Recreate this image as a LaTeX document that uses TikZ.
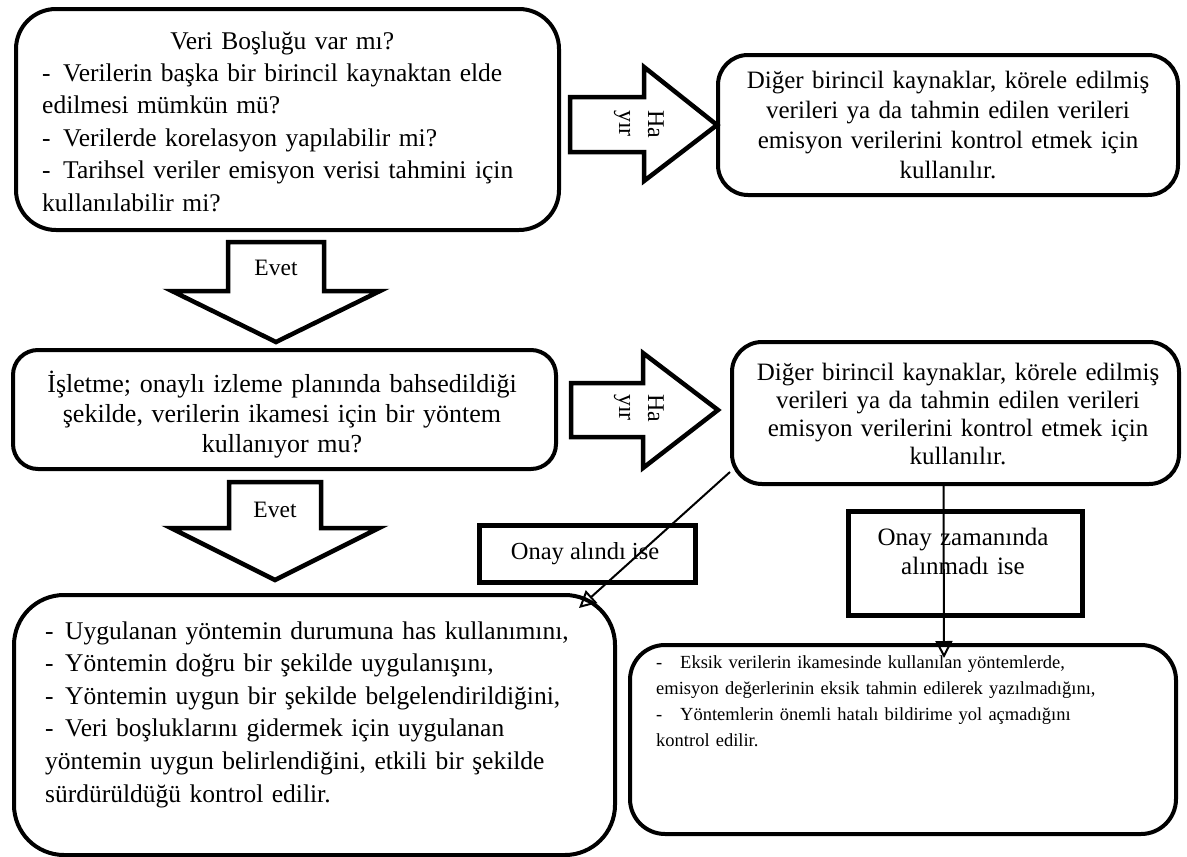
\documentclass[tikz,border=0pt]{standalone}
\usepackage{fontspec}
\setmainfont{Liberation Serif}
\usetikzlibrary{arrows.meta,calc}
\begin{document}
\begin{tikzpicture}[x=1pt,y=-1pt,
  rbox/.style={draw, line width=4pt, fill=white, inner sep=0pt, anchor=north west},
  sbox/.style={draw, line width=4.5pt, fill=white, inner sep=0pt, anchor=north west},
  blockarrow/.style={draw, line width=4.5pt, fill=white, line join=miter},
  txt/.style={inner sep=0pt, anchor=base west},
  ctxt/.style={inner sep=0pt, anchor=base},
  conn/.style={line width=2pt, -{Triangle[open, length=17pt, width=17pt, line width=2pt]}}]
\useasboundingbox (0,0) rectangle (1187,857);

% boxes
\node[rbox, rounded corners=40pt, minimum width=543pt, minimum height=221pt] (q1) at (14,7) {};
\node[rbox, rounded corners=30pt, minimum width=460pt, minimum height=140pt] (r1) at (716,53) {};
\node[rbox, rounded corners=25pt, minimum width=543pt, minimum height=119pt] (q2) at (11,348) {};
\node[rbox, rounded corners=30pt, minimum width=447pt, minimum height=142pt] (r2) at (730,340) {};
\node[rbox, rounded corners=50pt, minimum width=601pt, minimum height=260pt] (c1) at (12,593) {};
\node[rbox, rounded corners=35pt, minimum width=546pt, minimum height=189pt] (c2) at (628,643) {};
\node[sbox, minimum width=216pt, minimum height=57pt] (o1) at (477,523) {};
\node[sbox, minimum width=234pt, minimum height=104pt] (o2) at (846,509) {};

% block arrows
\draw[blockarrow] (228,242) -- (324,242) -- (324,291) -- (380,291) -- (276,342) -- (172,291) -- (228,291) -- cycle;
\draw[blockarrow] (229,482) -- (321,482) -- (321,528) -- (379,528) -- (275,580) -- (171,528) -- (229,528) -- cycle;
\draw[blockarrow] (570,97) -- (644,97) -- (644,67) -- (717,125) -- (644,181) -- (644,152) -- (570,152) -- cycle;
\draw[blockarrow] (571,383) -- (643,383) -- (643,353) -- (718,410) -- (643,468) -- (643,437) -- (571,437) -- cycle;

% texts
\node[txt, text width=480pt, align=left, font=\fontsize{25.5}{32.4}\selectfont] (t1) at (42,49)
 {\makebox[\linewidth][c]{Veri Boşluğu var mı?}\\
  \makebox[21pt][l]{-}Verilerin başka bir birincil kaynaktan elde\\
  edilmesi mümkün mü?\\
  \makebox[21pt][l]{-}Verilerde korelasyon yapılabilir mi?\\
  \makebox[21pt][l]{-}Tarihsel veriler emisyon verisi tahmini için\\
  kullanılabilir mi?};
\node[ctxt, text width=440pt, align=center, font=\fontsize{25}{30}\selectfont] (t2) at (948,88)
 {Diğer birincil kaynaklar, körele edilmiş\\ verileri ya da tahmin edilen verileri\\ emisyon verilerini kontrol etmek için\\ kullanılır.};
\node[ctxt, text width=520pt, align=center, font=\fontsize{26}{30}\selectfont] (t3) at (282,392)
 {İşletme; onaylı izleme planında bahsedildiği\\ şekilde, verilerin ikamesi için bir yöntem\\ kullanıyor mu?};
\node[ctxt, text width=430pt, align=center, font=\fontsize{25}{28}\selectfont] (t4) at (958,380)
 {Diğer birincil kaynaklar, körele edilmiş\\ verileri ya da tahmin edilen verileri\\ emisyon verilerini kontrol etmek için\\ kullanılır.};
\node[txt, text width=560pt, align=left, font=\fontsize{25.5}{32.6}\selectfont] (t5) at (45,639)
 {\makebox[20pt][l]{-}Uygulanan yöntemin durumuna has kullanımını,\\
  \makebox[20pt][l]{-}Yöntemin doğru bir şekilde uygulanışını,\\
  \makebox[20pt][l]{-}Yöntemin uygun bir şekilde belgelendirildiğini,\\
  \makebox[20pt][l]{-}Veri boşluklarını gidermek için uygulanan\\
  yöntemin uygun belirlendiğini, etkili bir şekilde\\
  sürdürüldüğü kontrol edilir.};
\node[txt, text width=500pt, align=left, font=\fontsize{18.5}{26.3}\selectfont] (t6) at (656,668)
 {\makebox[24pt][l]{-}Eksik verilerin ikamesinde kullanılan yöntemlerde,\\
  emisyon değerlerinin eksik tahmin edilerek yazılmadığını,\\
  \makebox[24pt][l]{-}Yöntemlerin önemli hatalı bildirime yol açmadığını\\
  kontrol edilir.};
\node[ctxt, font=\fontsize{24.5}{29}\selectfont] (t7) at (585,559) {Onay alındı ise};
\node[ctxt, text width=220pt, align=center, font=\fontsize{25}{29}\selectfont] (t8) at (963,545) {Onay zamanında\\ alınmadı ise};
\node[ctxt, font=\fontsize{23.5}{28}\selectfont] (e1) at (276,275) {Evet};
\node[ctxt, font=\fontsize{23.5}{28}\selectfont] (e2) at (275,517) {Evet};
\node[inner sep=0pt, rotate=-90, text width=32pt, align=left, font=\fontsize{24}{29}\selectfont] (h1) at (639,126) {Ha\\ yır};
\node[inner sep=0pt, rotate=-90, text width=32pt, align=left, font=\fontsize{24}{29}\selectfont] (h2) at (639,410) {Ha\\ yır};

% connectors
\draw[conn] ($(r2.south west)+(0,-14)$) -- ($(c1.north east)+(-38,15)$);
\draw[conn] ($(r2.south)+(-12,0)$) -- ($(c2.north)+(41,15)$);
\end{tikzpicture}
\end{document}
